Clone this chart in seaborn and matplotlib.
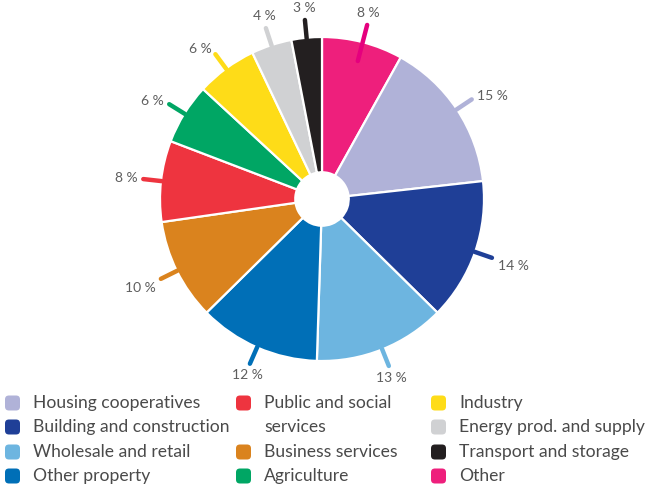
import numpy as np
import matplotlib
matplotlib.use("Agg")
import matplotlib.pyplot as plt
from matplotlib.patches import FancyBboxPatch
import seaborn as sns

# Sector shares, clockwise from twelve o'clock
sectors = ["Other", "Housing cooperatives", "Building and construction",
           "Wholesale and retail", "Other property", "Business services",
           "Public and social services", "Agriculture", "Industry",
           "Energy prod. and supply", "Transport and storage"]
shares = [8, 15, 14, 13, 12, 10, 8, 6, 6, 4, 3]
pct_labels = [f"{v} %" for v in shares]

palette = {
    "Housing cooperatives": "#B0B2D8",
    "Building and construction": "#1F3F97",
    "Wholesale and retail": "#6DB5E0",
    "Other property": "#006FB7",
    "Public and social services": "#EE343F",
    "Business services": "#DA831E",
    "Agriculture": "#00A664",
    "Industry": "#FEDC18",
    "Energy prod. and supply": "#D0D1D3",
    "Transport and storage": "#231F20",
    "Other": "#EE1F7C",
}
tick_palette = dict(palette, Other="#E5007E")

# Legend columns, top to bottom
legend_columns = [
    ["Housing cooperatives", "Building and construction",
     "Wholesale and retail", "Other property"],
    ["Public and social services", "Business services", "Agriculture"],
    ["Industry", "Energy prod. and supply", "Transport and storage", "Other"],
]
legend_text = {"Public and social services": ["Public and social", "services"]}

sns.set_theme(style="white")
plt.rcParams["font.family"] = ["Lato", "DejaVu Sans"]

W, H = 648, 484
fig = plt.figure(figsize=(W / 100, H / 100), dpi=100)
ax = fig.add_axes([0, 0, 1, 1])

# pie centre and radius in pixels; one data unit = R pixels
cx, cy, R = 322, 199, 162
colors = [palette[s] for s in sectors]
ax.pie(shares, colors=colors, startangle=90, counterclock=False, radius=1,
       wedgeprops=dict(width=0.835, edgecolor="white", linewidth=1.6))
ax.set_aspect("auto")
ax.set_xlim(-cx / R, (W - cx) / R)
ax.set_ylim(-(H - cy) / R, cy / R)
ax.axis("off")

total = sum(shares)
bounds = np.cumsum([0] + shares) / total * 360
mids = (bounds[:-1] + bounds[1:]) / 2
tick_end = 1.11
gap = 6 / R
for s, lab, th in zip(sectors, pct_labels, mids):
    a = np.deg2rad(90 - th)
    ux, uy = np.cos(a), np.sin(a)
    r0 = 0.88 if s == "Other" else 0.995
    ax.plot([r0 * ux, tick_end * ux], [r0 * uy, tick_end * uy],
            color=tick_palette[s], lw=3.2, solid_capstyle="round", zorder=5)
    ha = "left" if ux > 0.5 else ("right" if ux < -0.5 else "center")
    va = "top" if uy < -0.2 else ("bottom" if uy > 0.85 else "center")
    rl = tick_end + gap
    ax.text(rl * ux, rl * uy, lab, ha=ha, va=va, fontsize=10,
            color="#5E5E5E", zorder=6)

# legend laid out in pixel coordinates below the pie
def fx(px):
    return px / W

def fy(py):
    return 1 - py / H

col_marker_x = [5, 236, 431]
col_text_x = [33, 264, 459]
row_y = [403, 427, 452, 476]
msize = 15
for ci, col in enumerate(legend_columns):
    row = 0
    for s in col:
        y = row_y[row]
        box = FancyBboxPatch((fx(col_marker_x[ci]), fy(y + msize / 2)),
                             msize / W, msize / H,
                             boxstyle="round,pad=0,rounding_size=0.006",
                             transform=fig.transFigure, facecolor=palette[s],
                             edgecolor="none", mutation_aspect=W / H)
        fig.patches.append(box)
        lines = legend_text.get(s, [s])
        for li, line in enumerate(lines):
            fig.text(fx(col_text_x[ci]), fy(row_y[row + li]), line,
                     ha="left", va="center", fontsize=12.6, color="#4A4A4A")
        row += len(lines)

fig.savefig("out.png", dpi=100)
